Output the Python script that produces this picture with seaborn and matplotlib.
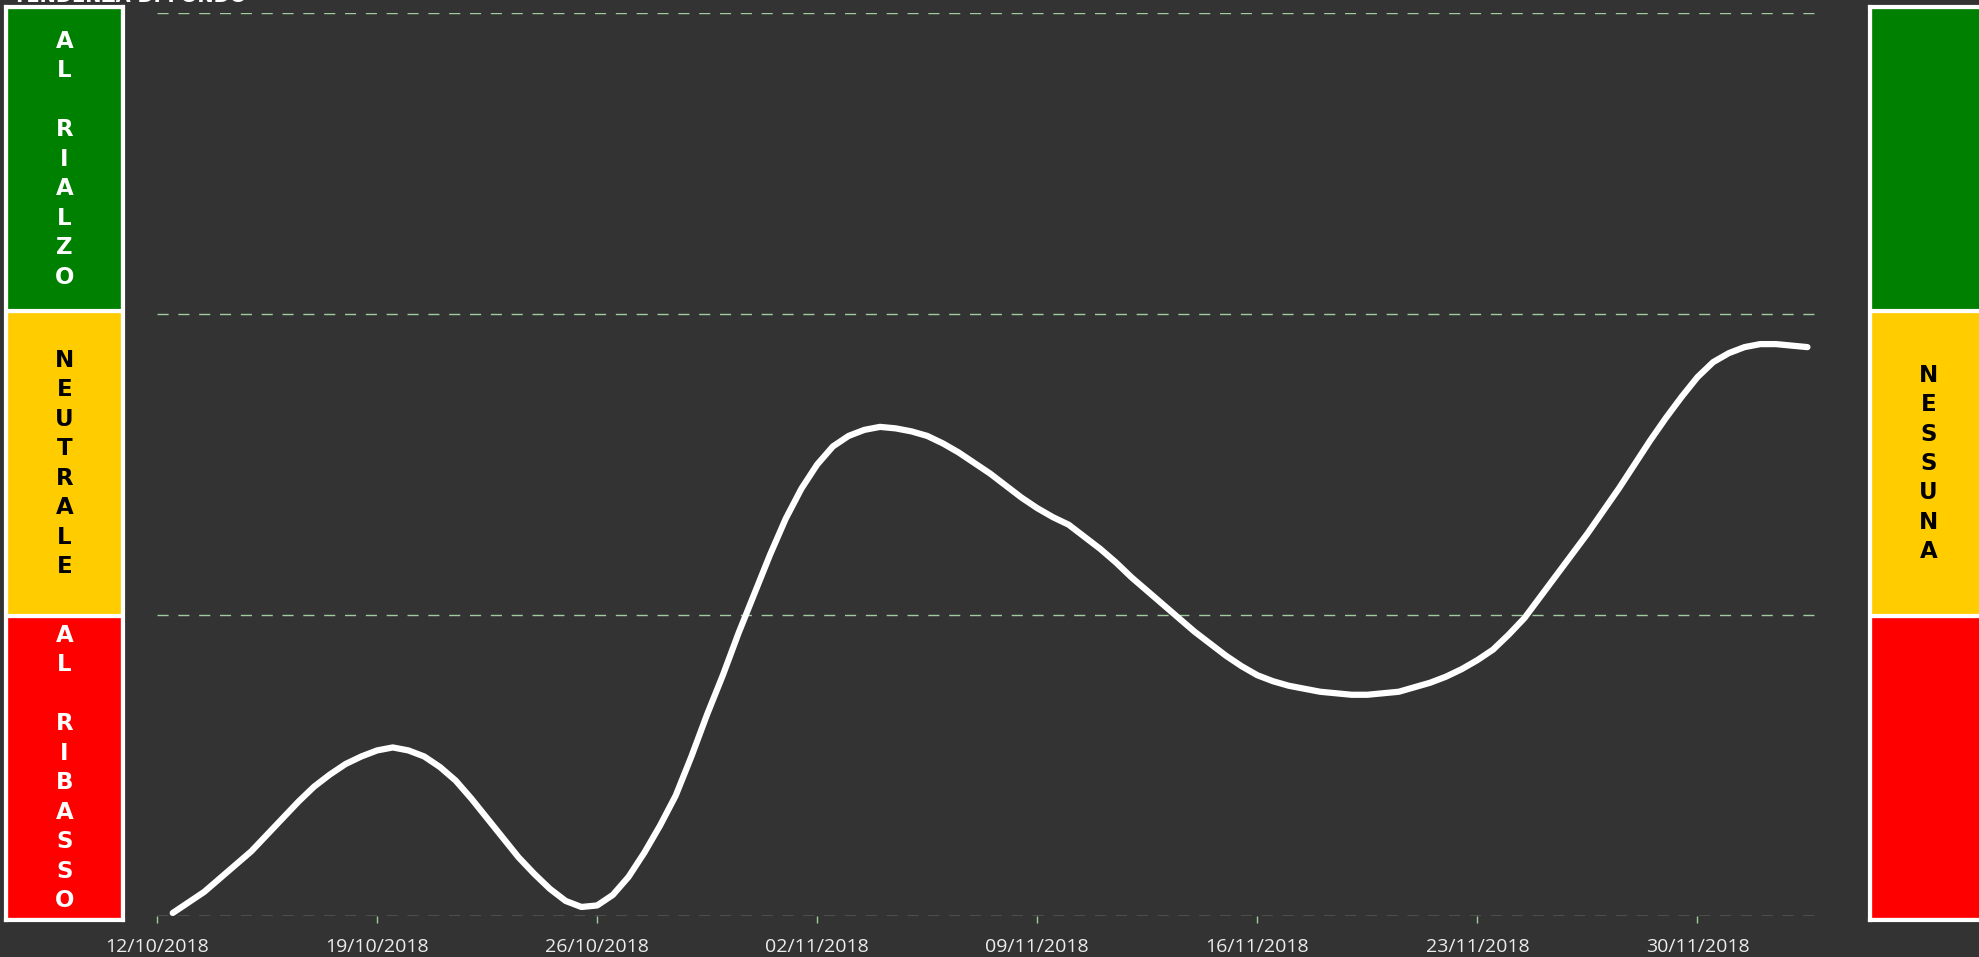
import numpy as np
import pandas as pd
import seaborn as sns
import matplotlib
matplotlib.use("Agg")
from matplotlib import pyplot as plt
import matplotlib.dates as mdates

# trend values every 12 hours, 12/10/2018 noon .. 03/12/2018 noon
start_date = "2018-10-12 12:00"
trend_values = [0.01, 0.045, 0.08, 0.125, 0.17, 0.215, 0.27, 0.325, 0.38, 0.43,
                0.47, 0.505, 0.53, 0.55, 0.56, 0.55, 0.53, 0.495, 0.45, 0.39,
                0.325, 0.26, 0.195, 0.14, 0.09, 0.05, 0.03, 0.035, 0.07, 0.13,
                0.21, 0.30, 0.40, 0.53, 0.67, 0.80, 0.94, 1.07, 1.20, 1.32,
                1.42, 1.50, 1.56, 1.595, 1.615, 1.625, 1.62, 1.61, 1.595, 1.57,
                1.54, 1.505, 1.47, 1.43, 1.39, 1.355, 1.325, 1.30, 1.26, 1.22,
                1.175, 1.125, 1.08, 1.035, 0.99, 0.945, 0.905, 0.865, 0.83, 0.80,
                0.78, 0.765, 0.755, 0.745, 0.74, 0.735, 0.735, 0.74, 0.745, 0.76,
                0.775, 0.795, 0.82, 0.85, 0.885, 0.935, 0.99, 1.06, 1.13, 1.20,
                1.27, 1.345, 1.42, 1.50, 1.58, 1.655, 1.725, 1.79, 1.84, 1.87,
                1.89, 1.90, 1.90, 1.895, 1.89]
tick_dates = ["2018-10-12", "2018-10-19", "2018-10-26", "2018-11-02",
              "2018-11-09", "2018-11-16", "2018-11-23", "2018-11-30"]
band_colors = ["#FF0000", "#FFCC00", "#008000"]
left_labels = ["A\nL\n\nR\nI\nB\nA\nS\nS\nO", "N\nE\nU\nT\nR\nA\nL\nE", "A\nL\n\nR\nI\nA\nL\nZ\nO"]
left_text_colors = ["white", "black", "white"]
right_labels = ["", "N\nE\nS\nS\nU\nN\nA", ""]
title_text = "TENDENZA DI FONDO"

df = pd.DataFrame({
    "date": pd.date_range(start_date, periods=len(trend_values), freq="12h"),
    "value": trend_values,
})

sns.set_style("dark")
plt.rcParams["font.family"] = ["Open Sans", "DejaVu Sans"]

W, H = 1979, 957
fig = plt.figure(figsize=(W / 100, H / 100), dpi=100, facecolor="#333333")


def px_rect(x0, y0, x1, y1):
    return [x0 / W, 1 - y1 / H, (x1 - x0) / W, (y1 - y0) / H]


grid_col = "#9fcb9f"
ax = fig.add_axes(px_rect(157, 13, 1820, 916))
ax.set_facecolor("#333333")
sns.lineplot(data=df, x="date", y="value", ax=ax, color="white", linewidth=4.5,
             solid_capstyle="round", solid_joinstyle="round")
x0 = pd.Timestamp("2018-10-12")
ax.set_xlim(x0, x0 + pd.Timedelta(days=52.9))
ax.set_ylim(0, 3)
ax.set_yticks([0, 1, 2, 3])
ax.set_yticklabels([])
ax.tick_params(axis="y", length=0, left=False)
ax.set_xticks(pd.to_datetime(tick_dates))
ax.xaxis.set_major_formatter(mdates.DateFormatter("%d/%m/%Y"))
ax.tick_params(axis="x", bottom=True, colors=grid_col, length=5, width=1, pad=11,
               labelcolor="#ececec", labelsize=14)
ax.grid(axis="y", color=grid_col, linestyle=(0, (8, 7)), linewidth=1)
ax.grid(axis="x", visible=False)
ax.set_xlabel("")
ax.set_ylabel("")
for s in ax.spines.values():
    s.set_visible(False)


def side_panel(rect, labels, text_colors):
    pax = fig.add_axes(rect)
    pax.set_facecolor("white")
    pax.bar([0, 0, 0], [1, 1, 1], bottom=[0, 1, 2], width=1, color=band_colors,
            edgecolor="white", linewidth=3)
    pax.set_xlim(-0.5, 0.5)
    pax.set_ylim(0, 3)
    for i, (lab, col) in enumerate(zip(labels, text_colors)):
        if lab:
            pax.text(0, i + 0.5, lab, ha="center", va="center", color=col,
                     fontsize=16.5, fontweight="bold", family="DejaVu Sans",
                     linespacing=1.36)
    pax.set_xticks([])
    pax.set_yticks([])
    for s in pax.spines.values():
        s.set_color("white")
        s.set_linewidth(3)
    return pax


side_panel(px_rect(6, 7, 123, 920), left_labels, left_text_colors)
side_panel(px_rect(1870, 7, 1987, 920), right_labels, ["black", "black", "black"])

fig.text(13 / W, 1 - 2 / H, title_text, color="white", fontsize=14,
         fontweight="bold", family="DejaVu Sans", ha="left", va="baseline")

fig.savefig("out.png", dpi=100, facecolor=fig.get_facecolor())
